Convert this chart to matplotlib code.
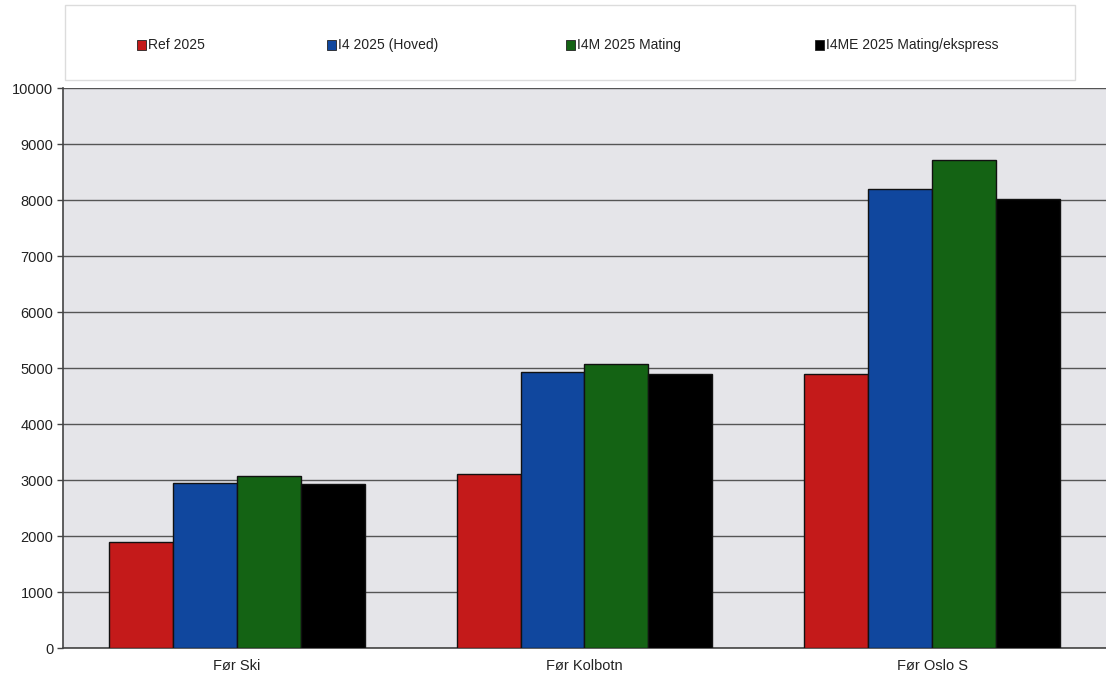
import matplotlib
matplotlib.use("Agg")
import matplotlib.pyplot as plt
from matplotlib.patches import Rectangle
import numpy as np

categories = ["Før Ski", "Før Kolbotn", "Før Oslo S"]
series_names = ["Ref 2025", "I4 2025 (Hoved)", "I4M 2025 Mating", "I4ME 2025 Mating/ekspress"]
ref_2025 = [1900, 3100, 4890]
i4_2025 = [2940, 4920, 8190]
i4m_2025 = [3080, 5070, 8710]
i4me_2025 = [2920, 4900, 8020]
series_values = [ref_2025, i4_2025, i4m_2025, i4me_2025]
colors = ["#c41a1a", "#10479e", "#146314", "#000000"]
y_ticks = [0, 1000, 2000, 3000, 4000, 5000, 6000, 7000, 8000, 9000, 10000]

plt.rcParams["font.family"] = ["Liberation Sans", "DejaVu Sans"]

fig = plt.figure(figsize=(11.06, 6.82), dpi=100)
fig.patch.set_facecolor("white")

ax = fig.add_axes([63 / 1106, 1 - 648 / 682, (1106 - 63) / 1106, (648 - 88) / 682])
ax.set_facecolor("#e5e5e9")

n_series = len(series_values)
x = np.arange(len(categories))
bar_w = 0.735 / n_series
for i, (vals, col, name) in enumerate(zip(series_values, colors, series_names)):
    offs = (i - (n_series - 1) / 2) * bar_w
    ax.bar(x + offs, vals, width=bar_w, color=col, edgecolor="#111111",
           linewidth=1.0, label=name, zorder=3)

ax.set_xlim(-0.5, len(categories) - 0.5)
ax.set_ylim(0, 10000)
ax.set_yticks(y_ticks)
ax.set_yticklabels([str(t) for t in y_ticks], fontsize=10.5, color="#222222")
ax.set_xticks(x)
ax.set_xticklabels(categories, fontsize=10.5, color="#222222")
ax.tick_params(axis="x", length=0, pad=8)
ax.tick_params(axis="y", length=4, width=1, color="#444444", pad=3)
ax.yaxis.grid(True, color="#555555", linewidth=1.0, zorder=1)
ax.set_axisbelow(True)
for side in ["top", "right"]:
    ax.spines[side].set_visible(False)
ax.spines["left"].set_color("#444444")
ax.spines["bottom"].set_color("#444444")
ax.spines["left"].set_linewidth(1.2)
ax.spines["bottom"].set_linewidth(1.2)

# Legend panel across the top
fig.patches.append(Rectangle((65 / 1106, 1 - 80 / 682), (1075 - 65) / 1106, 75 / 682,
                             transform=fig.transFigure, facecolor="white",
                             edgecolor="#dcdcdc", linewidth=1.0))
legend_x = [137, 327, 566, 815]
for lx, col, name in zip(legend_x, colors, series_names):
    fig.patches.append(Rectangle((lx / 1106, 1 - 50 / 682), 9 / 1106, 10 / 682,
                                 transform=fig.transFigure, facecolor=col,
                                 edgecolor="#222222", linewidth=0.6))
    fig.text((lx + 11) / 1106, 1 - 45 / 682, name, fontsize=10, color="#222222",
             va="center", ha="left")

fig.savefig("out.png", dpi=100, facecolor="white")
